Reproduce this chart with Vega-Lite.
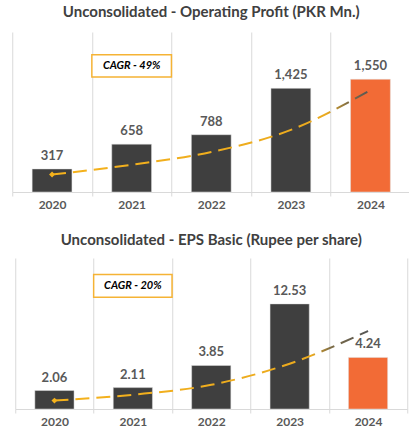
{
  "$schema": "https://vega.github.io/schema/vega-lite/v6.json",
  "padding": {"left": 11, "right": 0, "top": 5, "bottom": 0},
  "background": "white",
  "center": true,
  "spacing": 23,
  "config": {
    "view": {"stroke": null},
    "font": "Lato",
    "title": {"fontSize": 15, "fontWeight": "bold", "color": "#404040", "font": "Lato"},
    "axisX": {
      "title": null, "tickBand": "extent", "grid": true, "gridColor": "#D9D9D9", "gridWidth": 1,
      "ticks": true, "tickColor": "#D9D9D9", "tickSize": 4, "domainColor": "#D9D9D9",
      "labelFont": "Lato", "labelFontWeight": "bold", "labelFontSize": 12, "labelColor": "#595959",
      "labelPadding": 3, "labelAngle": 0
    }
  },
  "datasets": {
    "op": [
      {"year": "2020", "value": 317, "trend": 240, "hl": "n"},
      {"year": "2021", "value": 658, "trend": 375, "hl": "n"},
      {"year": "2022", "value": 788, "trend": 550, "hl": "n"},
      {"year": "2023", "value": 1425, "trend": 854, "hl": "n"},
      {"year": "2024", "value": 1550, "trend": 1400, "hl": "y"}
    ],
    "eps": [
      {"year": "2020", "bar": 2.2, "label": "2.06", "trend": 1.0, "hl": "n"},
      {"year": "2021", "bar": 2.55, "label": "2.11", "trend": 1.7, "hl": "n"},
      {"year": "2022", "bar": 5.19, "label": "3.85", "trend": 2.88, "hl": "n"},
      {"year": "2023", "bar": 12.53, "label": "12.53", "trend": 5.4, "hl": "n"},
      {"year": "2024", "bar": 6.15, "label": "4.24", "trend": 9.3, "hl": "y"}
    ],
    "cagr1": [{"year": "2021", "lo": 1580, "hi": 1886, "mid": 1733, "label": "CAGR - 49%"}],
    "cagr2": [{"year": "2021", "lo": 13.33, "hi": 16.03, "mid": 14.68, "label": "CAGR  - 20%"}]
  },
  "vconcat": [
    {
      "title": {"text": "Unconsolidated - Operating Profit (PKR Mn.)", "offset": 12},
      "width": 398,
      "height": 160,
      "data": {"name": "op"},
      "encoding": {
        "x": {"field": "year", "type": "nominal", "scale": {"paddingInner": 0, "paddingOuter": 0}}
      },
      "layer": [
        {
          "mark": {"type": "bar", "width": {"band": 0.5}, "stroke": "#E0E0E0", "strokeWidth": 0.5},
          "encoding": {
            "y": {"field": "value", "type": "quantitative", "scale": {"domain": [0, 2090]}, "axis": null},
            "color": {"field": "hl", "type": "nominal", "scale": {"domain": ["n", "y"], "range": ["#3F3F3F", "#F26B36"]}, "legend": null}
          }
        },
        {
          "mark": {"type": "text", "dy": -6, "baseline": "bottom", "fontWeight": "bold", "fontSize": 13, "color": "#595959", "font": "Lato"},
          "encoding": {
            "y": {"field": "value", "type": "quantitative"},
            "text": {"field": "value", "type": "quantitative", "format": ","}
          }
        },
        {
          "mark": {
            "type": "line", "interpolate": "monotone", "strokeDash": [14, 7], "strokeWidth": 2,
            "stroke": {"gradient": "linear", "x1": 0, "y1": 0, "x2": 1, "y2": 0,
              "stops": [{"offset": 0, "color": "#F5B21C"}, {"offset": 0.86, "color": "#EBAA1E"}, {"offset": 0.93, "color": "#7D6C45"}, {"offset": 1, "color": "#555555"}]}
          },
          "encoding": {"y": {"field": "trend", "type": "quantitative"}}
        },
        {
          "transform": [{"filter": "datum.year == '2020'"}],
          "mark": {"type": "point", "shape": "diamond", "filled": true, "size": 35, "color": "#F5B21C", "opacity": 1},
          "encoding": {"y": {"field": "trend", "type": "quantitative"}}
        },
        {
          "data": {"name": "cagr1"},
          "mark": {"type": "rect", "fill": "white", "stroke": "#F5B335", "strokeWidth": 1.5},
          "encoding": {
            "y": {"field": "lo", "type": "quantitative"},
            "y2": {"field": "hi"}
          }
        },
        {
          "data": {"name": "cagr1"},
          "mark": {"type": "text", "fontWeight": "bold", "fontStyle": "italic", "fontSize": 11, "color": "#000000", "font": "Lato"},
          "encoding": {
            "y": {"field": "mid", "type": "quantitative"},
            "text": {"field": "label"}
          }
        }
      ]
    },
    {
      "title": {"text": "Unconsolidated - EPS Basic (Rupee per share)", "offset": 10},
      "width": 392,
      "height": 151,
      "data": {"name": "eps"},
      "encoding": {
        "x": {"field": "year", "type": "nominal", "scale": {"paddingInner": 0, "paddingOuter": 0}}
      },
      "layer": [
        {
          "mark": {"type": "bar", "width": {"band": 0.5}, "stroke": "#E0E0E0", "strokeWidth": 0.5},
          "encoding": {
            "y": {"field": "bar", "type": "quantitative", "scale": {"domain": [0, 17.5]}, "axis": null},
            "color": {"field": "hl", "type": "nominal", "scale": {"domain": ["n", "y"], "range": ["#3F3F3F", "#F26B36"]}, "legend": null}
          }
        },
        {
          "mark": {"type": "text", "dy": -6, "baseline": "bottom", "fontWeight": "bold", "fontSize": 13, "color": "#595959", "font": "Lato"},
          "encoding": {
            "y": {"field": "bar", "type": "quantitative"},
            "text": {"field": "label"}
          }
        },
        {
          "mark": {
            "type": "line", "interpolate": "monotone", "strokeDash": [14, 7], "strokeWidth": 2,
            "stroke": {"gradient": "linear", "x1": 0, "y1": 0, "x2": 1, "y2": 0,
              "stops": [{"offset": 0, "color": "#F5B21C"}, {"offset": 0.82, "color": "#EBAA1E"}, {"offset": 0.88, "color": "#7D6C45"}, {"offset": 1, "color": "#555555"}]}
          },
          "encoding": {"y": {"field": "trend", "type": "quantitative"}}
        },
        {
          "transform": [{"filter": "datum.year == '2020'"}],
          "mark": {"type": "point", "shape": "diamond", "filled": true, "size": 35, "color": "#F5B21C", "opacity": 1},
          "encoding": {"y": {"field": "trend", "type": "quantitative"}}
        },
        {
          "data": {"name": "cagr2"},
          "mark": {"type": "rect", "fill": "white", "stroke": "#F5B335", "strokeWidth": 1.5},
          "encoding": {
            "y": {"field": "lo", "type": "quantitative"},
            "y2": {"field": "hi"}
          }
        },
        {
          "data": {"name": "cagr2"},
          "mark": {"type": "text", "fontWeight": "bold", "fontStyle": "italic", "fontSize": 11, "color": "#000000", "font": "Lato"},
          "encoding": {
            "y": {"field": "mid", "type": "quantitative"},
            "text": {"field": "label"}
          }
        }
      ]
    }
  ]
}
